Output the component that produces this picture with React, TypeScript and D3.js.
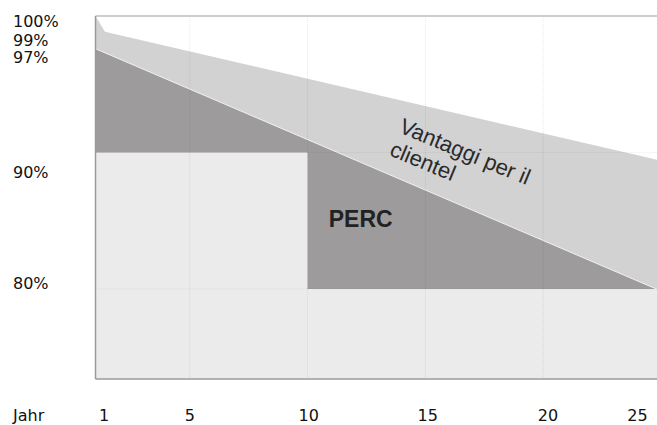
import React from "react";
import * as d3 from "d3";

// ---- data ----
const xTickYears = [1, 5, 10, 15, 20, 25];
const xTickLabelAt = [1.36, 5, 10.05, 15.1, 20.2, 24.0];
const gridYears = [5, 10, 15, 20];

const yTickLabels = ["100%", "99%", "97%", "90%", "80%"];
const yTickLabelAt = [99.16, 97.8, 96.55, 88.14, 80.0];
const gridValues = [90, 80];

const clientYears = [1, 1.4, 25];
const clientValues = [100, 98.84, 89.4];

const percYears = [1, 25];
const percValues = [97.6, 79.85];

const warrantyYears = [1, 10, 10, 25];
const warrantyValues = [90, 90, 80, 80];

const W = 657;
const H = 425;

export default function App() {
  const x = d3.scaleLinear().domain([1, 25]).range([95.5, 661]);
  const y = d3.scaleLinear().domain([73.4, 100]).range([379, 16]);
  const yBottom = y(73.4);

  const area = d3
    .area<[number, number]>()
    .x((d) => x(d[0]))
    .y0(yBottom)
    .y1((d) => y(d[1]));
  const line = d3
    .line<[number, number]>()
    .x((d) => x(d[0]))
    .y((d) => y(d[1]));

  const client = clientYears.map((t, i) => [t, clientValues[i]] as [number, number]);
  const perc = percYears.map((t, i) => [t, percValues[i]] as [number, number]);
  const warranty = warrantyYears.map((t, i) => [t, warrantyValues[i]] as [number, number]);

  const axisFont = "'DejaVu Sans', sans-serif";
  const rot = 22.5;

  return (
    <svg
      width={W}
      height={H}
      style={{ position: "absolute", left: 0, top: 0, background: "#fff" }}
    >
      <defs>
        <clipPath id="plot">
          <rect x={x(1)} y={y(100)} width={W - x(1)} height={yBottom - y(100)} />
        </clipPath>
      </defs>
      <g clipPath="url(#plot)">
        <path d={area(client) || ""} fill="#d3d2d3" />
        <path d={area(perc) || ""} fill="#9d9b9c" />
        <path d={line(perc) || ""} fill="none" stroke="#f2f2f2" strokeWidth={1} />
        <path d={area(warranty) || ""} fill="#ebebeb" />
        {gridYears.map((t) => (
          <line
            key={"gx" + t}
            x1={x(t)}
            x2={x(t)}
            y1={y(100)}
            y2={yBottom}
            stroke="rgba(0,0,0,0.09)"
            strokeWidth={1}
            strokeDasharray="1,1"
          />
        ))}
        {gridValues.map((v) => (
          <line
            key={"gy" + v}
            x1={x(1)}
            x2={W}
            y1={y(v)}
            y2={y(v)}
            stroke="rgba(0,0,0,0.07)"
            strokeWidth={1}
            strokeDasharray="1,1"
          />
        ))}
      </g>
      {/* borders */}
      <line x1={x(1)} x2={W} y1={y(100)} y2={y(100)} stroke="#bdbdbd" strokeWidth={1.5} />
      <line x1={x(1)} x2={x(1)} y1={y(100)} y2={yBottom} stroke="#9a9a9a" strokeWidth={1.5} />
      <line x1={x(1)} x2={W} y1={yBottom} y2={yBottom} stroke="#9a9a9a" strokeWidth={1.5} />

      {/* y labels */}
      {yTickLabels.map((s, i) => (
        <text
          key={s}
          x={13}
          y={y(yTickLabelAt[i])}
          fontFamily={axisFont}
          fontSize={16}
          fill="#111"
        >
          {s}
        </text>
      ))}
      {/* x labels */}
      <text x={13} y={421} fontFamily={axisFont} fontSize={16} fill="#111">
        Jahr
      </text>
      {xTickYears.map((t, i) => (
        <text
          key={"xl" + t}
          x={x(xTickLabelAt[i])}
          y={421}
          textAnchor="middle"
          fontFamily={axisFont}
          fontSize={16}
          fill="#111"
        >
          {t}
        </text>
      ))}

      {/* annotations */}
      <text
        x={x(10.9)}
        y={y(84.55)}
        fontFamily="'Liberation Sans', Arial, sans-serif"
        fontWeight="bold"
        fontSize={23}
        fill="#222"
      >
        PERC
      </text>
      <g transform={`translate(398,132) rotate(${rot})`}>
        <text
          x={0}
          y={0}
          fontFamily="'Liberation Sans', Arial, sans-serif"
          fontSize={22}
          fill="#2a2a2a"
        >
          Vantaggi per il
        </text>
        <text
          x={0}
          y={25}
          fontFamily="'Liberation Sans', Arial, sans-serif"
          fontSize={22}
          fill="#2a2a2a"
        >
          clientel
        </text>
      </g>
    </svg>
  );
}
